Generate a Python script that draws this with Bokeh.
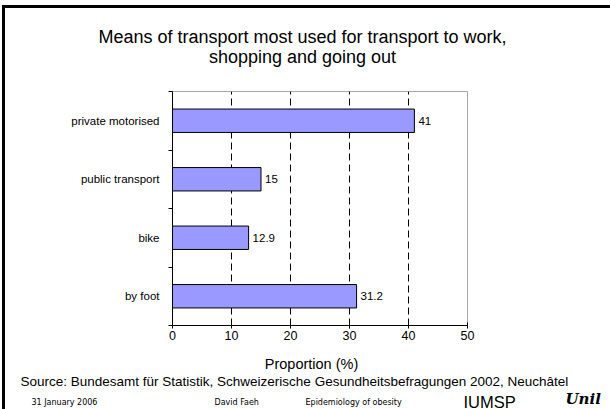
from bokeh.plotting import figure
from bokeh.models import Range1d, FixedTicker, ColumnDataSource
from bokeh.layouts import column
from bokeh.embed import file_html
from bokeh.resources import INLINE
from bokeh.core.properties import value

# ---- data ----
categories = ["private motorised", "public transport", "bike", "by foot"]
values = [41, 15, 12.9, 31.2]
value_labels = ["41", "15", "12.9", "31.2"]
x_ticks = [0, 10, 20, 30, 40, 50]
grid_ticks = [10, 20, 30, 40]

title_lines = ["Means of transport most used for transport to work,", "shopping and going out"]
x_label = "Proportion (%)"
source_text = "Source: Bundesamt f\u00fcr Statistik, Schweizerische Gesundheitsbefragungen 2002, Neuch\u00e2tel"
footer = ["31 January 2006", "David Faeh", "Epidemiology of obesity"]
institute = "IUMSP"
logo_text = "Unil"

ARIAL = "Liberation Sans"

# page geometry (canvas starts at page x=5, y=8)
X0, Y0 = 5, 8
W = 610 - X0
TOP_H = 76
CHART_H = 266
BOT_H = 409 - Y0 - TOP_H - CHART_H


def text_panel(height, y_top):
    f = figure(width=W, height=height, output_backend="svg", toolbar_location=None,
               x_range=Range1d(X0, 610), y_range=Range1d(y_top + height, y_top),
               x_axis_location=None, y_axis_location=None, min_border=0,
               frame_align=False, title=None)
    f.outline_line_color = None
    f.grid.visible = False
    f.background_fill_color = "white"
    f.border_fill_color = "white"
    return f


def txt(f, x, y, t, size, font=ARIAL, align="center", style="normal", baseline="alphabetic"):
    f.text(x=[x], y=[y], text=[t], text_font=value(font), text_font_size=size,
           text_align=align, text_baseline=baseline, text_color="black",
           text_font_style=style)


# ---- title panel ----
top = text_panel(TOP_H, Y0)
txt(top, 302, 36, title_lines[0], "18px")
txt(top, 302, 56, title_lines[1], "18px")

# ---- chart ----
n = len(categories)
centers = [n - i - 0.5 for i in range(n)]
bounds = [float(i) for i in range(n + 1)]

p = figure(width=W, height=CHART_H, output_backend="svg", toolbar_location=None,
           x_range=Range1d(0, 50), y_range=Range1d(0, n), frame_align=False, title=None,
           min_border_left=172 - X0, min_border_right=610 - 467,
           min_border_top=91 - (Y0 + TOP_H), min_border_bottom=(Y0 + TOP_H + CHART_H) - 325)
p.background_fill_color = "white"
p.border_fill_color = "white"
p.outline_line_color = "#a8a8a8"
p.outline_line_width = 1

src = ColumnDataSource(dict(y=centers, v=values, lab=value_labels, cat=categories))
p.hbar(y="y", right="v", left=0, height=0.4, source=src,
       fill_color="#9999FF", line_color="black", line_width=1)
p.text(x="v", y="y", text="lab", source=src, x_offset=4, text_baseline="middle",
       text_align="left", text_font=value(ARIAL), text_font_size="11.5px",
       text_color="black")

p.ygrid.visible = False
p.xgrid.ticker = FixedTicker(ticks=grid_ticks)
p.xgrid.grid_line_color = "black"
p.xgrid.grid_line_dash = "7 4"
p.xgrid.grid_line_width = 1

xa = p.xaxis[0]
xa.ticker = FixedTicker(ticks=x_ticks)
xa.axis_line_color = "black"
xa.major_tick_in = 3
xa.major_tick_out = 3
xa.minor_tick_line_color = None
xa.major_label_text_font = ARIAL
xa.major_label_text_font_size = "12.5px"
xa.major_label_text_color = "black"
xa.major_label_standoff = 2

ya = p.yaxis[0]
ya.ticker = FixedTicker(ticks=centers, minor_ticks=bounds)
ya.major_label_overrides = {c: cat for c, cat in zip(centers, categories)}
ya.major_tick_in = 0
ya.major_tick_out = 0
ya.minor_tick_in = 0
ya.minor_tick_out = 4
ya.minor_tick_line_color = "black"
ya.axis_line_color = "black"
ya.major_label_text_font = ARIAL
ya.major_label_text_font_size = "11.5px"
ya.major_label_text_color = "black"
ya.major_label_standoff = 9

# ---- bottom panel ----
bot = text_panel(BOT_H, Y0 + TOP_H + CHART_H)
txt(bot, 311, 363, x_label, "14.5px")
txt(bot, 20, 381, source_text, "13.5px", align="left")
txt(bot, 31, 402, footer[0], "8px", font="DejaVu Sans", align="left")
txt(bot, 214, 402, footer[1], "8px", font="DejaVu Sans", align="left")
txt(bot, 305, 402, footer[2], "8px", font="DejaVu Sans", align="left")
txt(bot, 463, 401, institute, "16.5px", align="left")
txt(bot, 565, 398, logo_text, "15px", font="DejaVu Serif", align="left", style="bold italic")

layout = column(top, p, bot, spacing=0)
layout.styles = {"margin-left": "2px", "margin-top": "5px",
                 "border-left": "3px solid black", "border-top": "3px solid black"}

open("out.html", "w").write(file_html(layout, INLINE))
